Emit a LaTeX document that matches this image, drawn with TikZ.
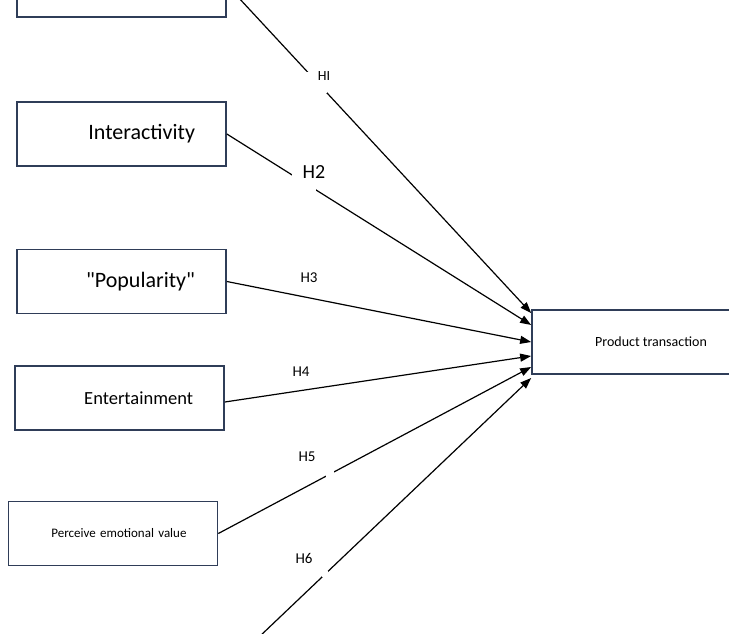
\documentclass[tikz,border=0pt]{standalone}
\usepackage{fontspec}
\setmainfont{Carlito}[Ligatures=TeXOff]
\usetikzlibrary{arrows.meta,calc}
\definecolor{boxblue}{HTML}{2F3D58}

\begin{document}
\begin{tikzpicture}[x=1pt,y=-1pt,
  factor/.style={draw=boxblue,line width=1.7pt,minimum height=64pt,text width=147pt,
    inner xsep=31pt,align=right,font=\fontsize{22}{26}\selectfont},
  outcome/.style={draw=boxblue,line width=1.7pt,minimum height=64pt,minimum width=238pt,
    font=\fontsize{14}{17}\selectfont},
  hyp/.style={line width=1.2pt,-{Triangle[length=11pt,width=8pt]}},
  linegap/.style={fill=white,inner sep=0pt,minimum size=#1},
  hlabel/.style={font=\fontsize{15}{18}\selectfont,inner sep=0pt}]
  \useasboundingbox (0,0) rectangle (729,634);
  \clip (0,0) rectangle (729,634);
  % Factors
  \node[factor] (top) at (121.5,-15) {};
  \node[factor] (inter) at (121.5,134) {Interactivity};
  \node[factor] (pop) at (121.5,281.5) {"Popularity"};
  \node[factor,font=\fontsize{18.5}{22}\selectfont] (ent) at (119.5,398) {Entertainment};
  \node[factor,font=\fontsize{13}{16}\selectfont] (emo) at (113,533.5) {Perceive emotional value};
  \coordinate (low) at (217,677);
  % Outcome
  \node[outcome] (prod) at (651,342) {Product transaction};
  % Hypotheses
  \draw[hyp] (top.east) -- node[linegap=21pt,pos=0.296]{} ($(prod.west)+(0,-29)$);
  \draw[hyp] (inter.east) -- node[linegap=24pt,pos=0.255]{} ($(prod.west)+(0,-17)$);
  \draw[hyp] (pop.east) -- (prod.west);
  \draw[hyp] ($(ent.east)+(0,4)$) -- ($(prod.west)+(0,14)$);
  \draw[hyp] (emo.east) -- node[linegap=8pt,pos=0.356]{} ($(prod.west)+(0,25)$);
  \draw[hyp] (low) -- node[linegap=6pt,pos=0.343]{} ($(prod.west)+(0,36)$);
  % Labels
  \node[hlabel,font=\fontsize{14}{17}\selectfont] (h1) at (324,76) {HI};
  \node[hlabel,font=\fontsize{20}{24}\selectfont] (h2) at (314,172) {H2};
  \node[hlabel] (h3) at (309,278) {H3};
  \node[hlabel] (h4) at (301,372) {H4};
  \node[hlabel] (h5) at (307,457) {H5};
  \node[hlabel] (h6) at (304,558) {H6};
\end{tikzpicture}
\end{document}
